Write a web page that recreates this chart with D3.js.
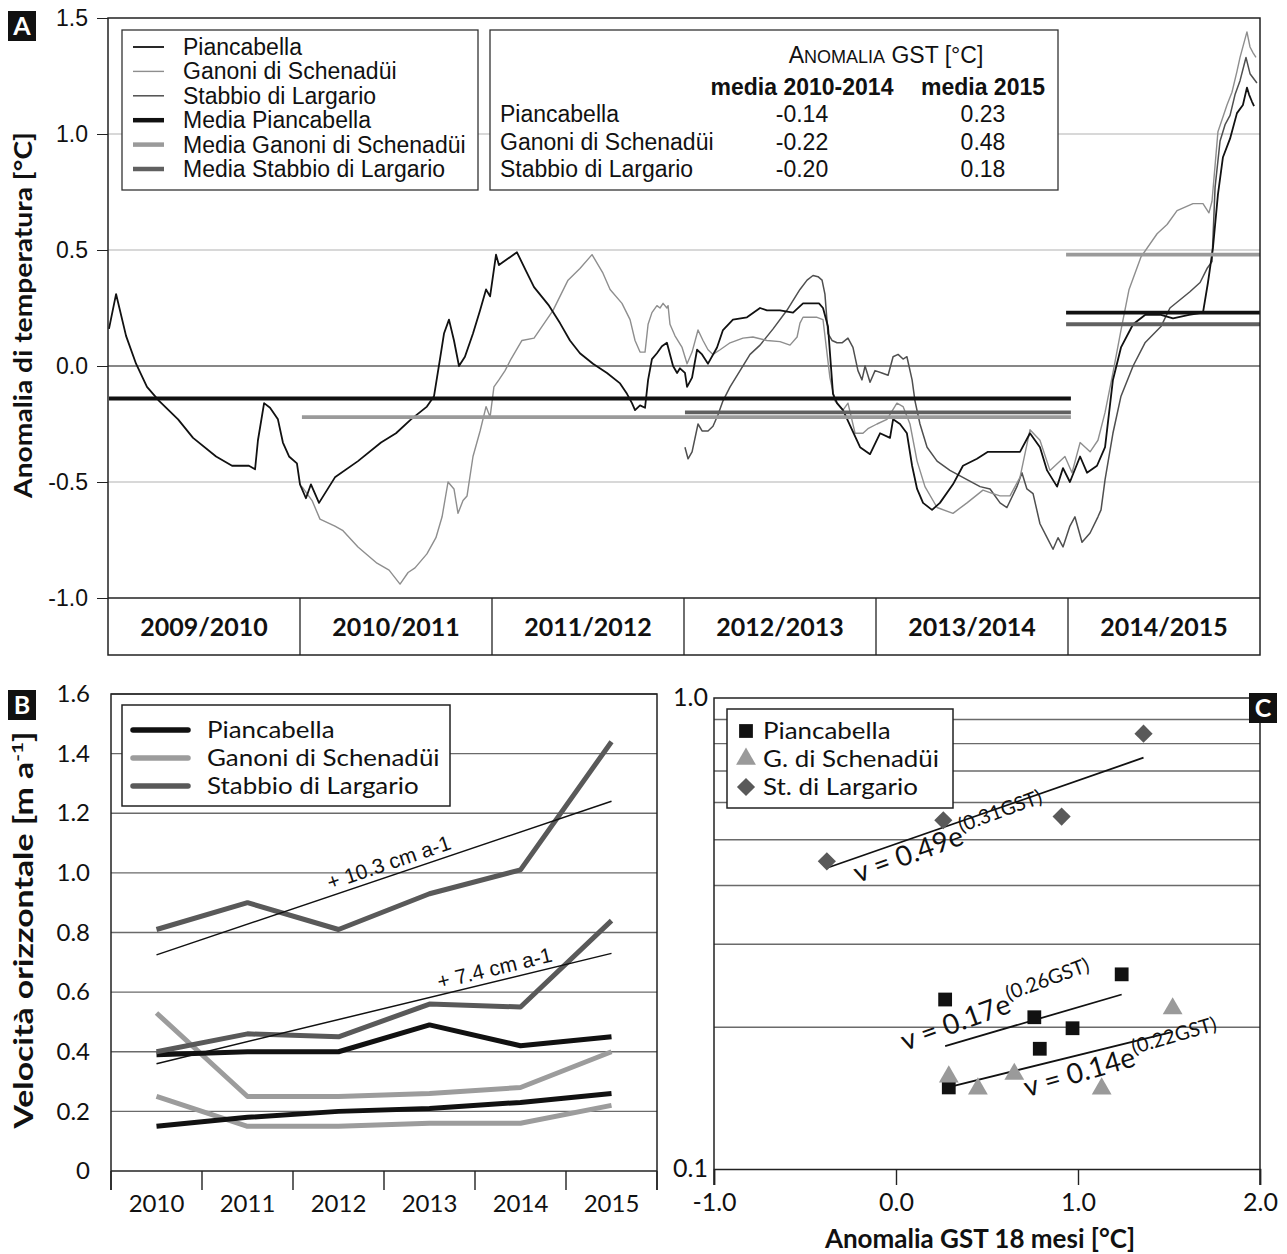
<!doctype html>
<html>
<head>
<meta charset="utf-8">
<title>Anomalia GST e velocità orizzontale</title>
<script src="https://d3js.org/d3.v7.min.js"></script>
<style>
    body { margin: 0; background: #fff; }
    svg text { font-family: "Liberation Sans", Arial, sans-serif; fill: #111; }
    svg text.cal { font-family: Lato, "Open Sans", sans-serif; }
</style>
</head>
<body>
<svg id="chart" width="1287" height="1254"></svg>
<script>
// ---------- dati pannello A (anno decimale, anomalia °C) ----------
var seasons = ["2009/2010", "2010/2011", "2011/2012", "2012/2013", "2013/2014", "2014/2015"];
var siti = ["Piancabella", "Ganoni di Schenadüi", "Stabbio di Largario"];
var media20102014 = [-0.14, -0.22, -0.20];
var media2015 = [0.23, 0.48, 0.18];

var piancabella = [[2009.755,0.16],[2009.792,0.31],[2009.844,0.13],[2009.896,0.01],[2009.953,-0.09],[2010.016,-0.15],
  [2010.115,-0.23],[2010.193,-0.31],[2010.313,-0.39],[2010.396,-0.43],[2010.484,-0.43],[2010.516,-0.445],[2010.531,-0.32],
  [2010.563,-0.16],[2010.594,-0.18],[2010.635,-0.23],[2010.661,-0.33],[2010.693,-0.39],[2010.734,-0.42],[2010.750,-0.51],
  [2010.781,-0.57],[2010.807,-0.51],[2010.849,-0.59],[2010.932,-0.48],[2011.052,-0.41],[2011.172,-0.33],[2011.250,-0.29],
  [2011.328,-0.23],[2011.411,-0.175],[2011.448,-0.13],[2011.479,0.03],[2011.500,0.14],[2011.526,0.20],[2011.552,0.11],
  [2011.578,0.00],[2011.609,0.04],[2011.651,0.14],[2011.688,0.24],[2011.719,0.33],[2011.740,0.30],[2011.771,0.48],
  [2011.786,0.435],[2011.828,0.46],[2011.880,0.49],[2011.927,0.41],[2011.969,0.34],[2012.047,0.26],[2012.104,0.185],
  [2012.156,0.11],[2012.208,0.055],[2012.276,0.01],[2012.349,-0.03],[2012.417,-0.075],[2012.453,-0.12],[2012.479,-0.16],
  [2012.495,-0.19],[2012.521,-0.17],[2012.547,-0.18],[2012.563,-0.06],[2012.583,0.03],[2012.609,0.055],[2012.635,0.085],
  [2012.661,0.10],[2012.693,0.00],[2012.714,-0.03],[2012.729,-0.01],[2012.755,-0.03],[2012.766,-0.09],[2012.792,-0.05],
  [2012.818,0.07],[2012.844,0.05],[2012.875,0.01],[2012.922,0.08],[2012.953,0.155],[2013.005,0.20],[2013.078,0.21],
  [2013.146,0.25],[2013.182,0.24],[2013.250,0.24],[2013.318,0.23],[2013.370,0.27],[2013.453,0.27],[2013.474,0.25],
  [2013.500,0.17],[2013.526,-0.12],[2013.547,-0.16],[2013.578,-0.19],[2013.667,-0.35],[2013.719,-0.38],[2013.771,-0.29],
  [2013.823,-0.31],[2013.839,-0.23],[2013.875,-0.25],[2013.911,-0.29],[2013.938,-0.43],[2013.964,-0.53],[2013.995,-0.59],
  [2014.042,-0.62],[2014.083,-0.59],[2014.151,-0.51],[2014.203,-0.43],[2014.276,-0.40],[2014.333,-0.37],[2014.396,-0.37],
  [2014.500,-0.37],[2014.552,-0.29],[2014.604,-0.35],[2014.641,-0.45],[2014.693,-0.52],[2014.724,-0.44],[2014.760,-0.50],
  [2014.813,-0.39],[2014.849,-0.46],[2014.901,-0.43],[2014.943,-0.35],[2014.984,-0.06],[2015.026,0.08],[2015.089,0.18],
  [2015.151,0.22],[2015.234,0.22],[2015.297,0.205],[2015.380,0.22],[2015.453,0.23],[2015.479,0.36],[2015.505,0.51],
  [2015.531,0.74],[2015.557,0.90],[2015.594,0.98],[2015.630,1.09],[2015.661,1.125],[2015.682,1.20],[2015.693,1.17],
  [2015.708,1.14],[2015.719,1.12]];

var ganoni = [[2010.760,-0.52],[2010.813,-0.58],[2010.854,-0.66],[2010.932,-0.69],[2010.974,-0.71],[2011.052,-0.78],
  [2011.151,-0.85],[2011.214,-0.88],[2011.271,-0.94],[2011.313,-0.89],[2011.349,-0.87],[2011.411,-0.81],[2011.458,-0.74],
  [2011.490,-0.65],[2011.521,-0.50],[2011.552,-0.53],[2011.573,-0.635],[2011.599,-0.58],[2011.620,-0.56],[2011.651,-0.39],
  [2011.688,-0.28],[2011.719,-0.175],[2011.740,-0.22],[2011.760,-0.09],[2011.786,-0.06],[2011.818,-0.02],[2011.849,0.03],
  [2011.906,0.11],[2011.969,0.12],[2012.010,0.17],[2012.068,0.24],[2012.146,0.37],[2012.208,0.42],[2012.271,0.48],
  [2012.328,0.40],[2012.365,0.33],[2012.427,0.27],[2012.469,0.20],[2012.495,0.11],[2012.521,0.06],[2012.547,0.06],
  [2012.563,0.18],[2012.583,0.23],[2012.609,0.26],[2012.625,0.25],[2012.641,0.27],[2012.661,0.25],[2012.667,0.26],
  [2012.677,0.18],[2012.703,0.13],[2012.740,0.08],[2012.766,0.01],[2012.792,0.06],[2012.823,0.155],[2012.849,0.11],
  [2012.875,0.07],[2012.901,0.05],[2012.938,0.07],[2012.990,0.10],[2013.057,0.12],[2013.109,0.125],[2013.182,0.11],
  [2013.250,0.105],[2013.302,0.09],[2013.339,0.125],[2013.354,0.185],[2013.370,0.21],[2013.443,0.21],[2013.474,0.20],
  [2013.510,-0.05],[2013.536,-0.15],[2013.578,-0.19],[2013.604,-0.16],[2013.641,-0.29],[2013.682,-0.29],[2013.708,-0.27],
  [2013.755,-0.25],[2013.807,-0.23],[2013.859,-0.16],[2013.891,-0.175],[2013.927,-0.25],[2013.964,-0.41],[2014.005,-0.52],
  [2014.068,-0.61],[2014.151,-0.635],[2014.224,-0.59],[2014.307,-0.535],[2014.359,-0.55],[2014.396,-0.56],[2014.448,-0.56],
  [2014.500,-0.48],[2014.552,-0.275],[2014.604,-0.32],[2014.656,-0.45],[2014.734,-0.39],[2014.771,-0.46],[2014.813,-0.33],
  [2014.865,-0.37],[2014.906,-0.32],[2014.943,-0.20],[2014.984,-0.03],[2015.026,0.155],[2015.068,0.33],[2015.130,0.47],
  [2015.214,0.57],[2015.266,0.61],[2015.318,0.67],[2015.401,0.70],[2015.453,0.70],[2015.484,0.66],[2015.500,0.71],
  [2015.531,1.01],[2015.578,1.125],[2015.604,1.18],[2015.630,1.27],[2015.646,1.33],[2015.682,1.44],[2015.698,1.375],
  [2015.714,1.35],[2015.729,1.33]];

var stabbio = [[2012.755,-0.35],[2012.771,-0.40],[2012.792,-0.37],[2012.823,-0.25],[2012.844,-0.28],[2012.875,-0.28],
  [2012.901,-0.26],[2012.927,-0.21],[2012.953,-0.15],[2012.990,-0.09],[2013.042,-0.02],[2013.094,0.05],[2013.146,0.09],
  [2013.214,0.16],[2013.286,0.24],[2013.354,0.33],[2013.391,0.37],[2013.422,0.39],[2013.448,0.385],[2013.469,0.37],
  [2013.484,0.31],[2013.500,0.14],[2013.521,0.11],[2013.547,0.10],[2013.573,0.10],[2013.604,0.12],[2013.630,0.08],
  [2013.656,-0.02],[2013.677,-0.06],[2013.693,0.00],[2013.719,-0.07],[2013.745,-0.02],[2013.781,-0.03],[2013.813,-0.04],
  [2013.839,0.04],[2013.865,0.05],[2013.891,0.03],[2013.911,0.04],[2013.938,-0.06],[2013.953,-0.15],[2013.979,-0.25],
  [2014.016,-0.35],[2014.068,-0.41],[2014.135,-0.45],[2014.224,-0.49],[2014.292,-0.52],[2014.344,-0.53],[2014.396,-0.59],
  [2014.432,-0.61],[2014.484,-0.52],[2014.510,-0.46],[2014.536,-0.53],[2014.568,-0.55],[2014.604,-0.68],[2014.641,-0.74],
  [2014.672,-0.79],[2014.698,-0.74],[2014.724,-0.78],[2014.760,-0.69],[2014.786,-0.65],[2014.823,-0.76],[2014.865,-0.72],
  [2014.906,-0.65],[2014.922,-0.62],[2014.943,-0.49],[2014.984,-0.29],[2015.026,-0.13],[2015.089,0.00],[2015.151,0.10],
  [2015.234,0.17],[2015.281,0.25],[2015.385,0.32],[2015.438,0.36],[2015.474,0.42],[2015.500,0.45],[2015.516,0.77],
  [2015.542,0.97],[2015.568,1.04],[2015.594,1.08],[2015.620,1.17],[2015.646,1.23],[2015.677,1.33],[2015.698,1.26],
  [2015.734,1.22]];

// ---------- dati pannello B (velocità orizzontale, m/a) ----------
var anni = ["2010", "2011", "2012", "2013", "2014", "2015"];
var velPiancabella1 = [0.39, 0.40, 0.40, 0.49, 0.42, 0.45];
var velPiancabella2 = [0.15, 0.18, 0.20, 0.21, 0.23, 0.26];
var velGanoni1 = [0.53, 0.25, 0.25, 0.26, 0.28, 0.40];
var velGanoni2 = [0.25, 0.15, 0.15, 0.16, 0.16, 0.22];
var velStabbio1 = [0.81, 0.90, 0.81, 0.93, 1.01, 1.44];
var velStabbio2 = [0.40, 0.46, 0.45, 0.56, 0.55, 0.84];
var trendAlto = [0.725, 1.24];
var trendBasso = [0.36, 0.73];
var trendEtichette = ["+ 10.3 cm a-1", "+ 7.4 cm a-1"];

// ---------- dati pannello C (anomalia GST 18 mesi vs velocità) ----------
var gstPiancabella = [0.27, 0.29, 0.76, 0.79, 0.97, 1.24];
var vPiancabella = [0.229, 0.149, 0.21, 0.18, 0.199, 0.259];
var gstGanoni = [0.29, 0.45, 0.65, 1.13, 1.52];
var vGanoni = [0.157, 0.148, 0.159, 0.148, 0.219];
var gstStabbio = [-0.38, 0.26, 0.91, 1.36];
var vStabbio = [0.45, 0.55, 0.56, 0.84];
var fitCoeff = [[0.17, 0.26], [0.14, 0.22], [0.49, 0.31]];   // v = a e^(b GST)
var legendaC = ["Piancabella", "G. di Schenadüi", "St. di Largario"];

var cal = "cal";
var svg = d3.select("#chart");

function panelLabel(x, y, t) {
    svg.append("rect").attr("x", x).attr("y", y).attr("width", 28).attr("height", 30).attr("fill", "#111");
    svg.append("text").attr("class", cal).attr("x", x + 14).attr("y", y + 24).attr("text-anchor", "middle")
        .attr("font-size", 25).attr("font-weight", "bold").style("fill", "#fff").text(t);
}

// =================== PANNELLO A ===================
var xA = d3.scaleLinear().domain([2009.75, 2015.75]).range([108, 1260]);
var yA = d3.scaleLinear().domain([-1, 1.5]).range([598, 18]);
var gA = svg.append("g");

gA.selectAll("line.grid").data([-0.5, 0.5, 1.0]).join("line")
    .attr("x1", 108).attr("x2", 1260).attr("y1", function (d) { return yA(d); }).attr("y2", function (d) { return yA(d); })
    .attr("stroke", "#a8a8a8").attr("stroke-width", 0.9);
gA.append("line").attr("x1", 108).attr("x2", 1260).attr("y1", yA(0)).attr("y2", yA(0))
    .attr("stroke", "#111").attr("stroke-width", 1.2);

gA.append("g").attr("transform", "translate(108,0)")
    .call(d3.axisLeft(yA).tickValues(d3.range(-1, 1.51, 0.5)).tickFormat(function (d) { return d.toFixed(1); })
        .tickSize(11).tickPadding(9))
    .call(function (g) { g.select(".domain").remove(); })
    .call(function (g) {
        g.selectAll("line").attr("stroke", "#222");
        g.selectAll("text").attr("font-size", 23).style("font-family", "'Liberation Sans', Arial, sans-serif");
    });

var lineA = d3.line().x(function (d) { return xA(d[0]); }).y(function (d) { return yA(d[1]); });
var serieA = [
    { data: stabbio, color: "#4f4f4f", w: 1.5 },
    { data: ganoni, color: "#8e8e8e", w: 1.4 },
    { data: piancabella, color: "#111", w: 1.8 }
];
gA.selectAll("path.serie").data(serieA).join("path")
    .attr("d", function (d) { return lineA(d.data); })
    .attr("fill", "none").attr("stroke", function (d) { return d.color; }).attr("stroke-width", function (d) { return d.w; })
    .attr("stroke-linejoin", "round");

var coloriMedia = ["#111", "#9a9a9a", "#606060"];
var inizio = [piancabella[0][0], ganoni[0][0], stabbio[0][0]];
siti.forEach(function (s, i) {
    gA.append("line").attr("x1", xA(inizio[i])).attr("x2", xA(2014.765))
        .attr("y1", yA(media20102014[i])).attr("y2", yA(media20102014[i]))
        .attr("stroke", coloriMedia[i]).attr("stroke-width", 3.8);
    gA.append("line").attr("x1", xA(2014.74)).attr("x2", xA(2015.75))
        .attr("y1", yA(media2015[i])).attr("y2", yA(media2015[i]))
        .attr("stroke", coloriMedia[i]).attr("stroke-width", 3.8);
});

// riga delle stagioni
var bordi = seasons.map(function (s) { return +s.slice(0, 4) + 0.75; });
gA.selectAll("line.sep").data(bordi.slice(1)).join("line")
    .attr("x1", function (d) { return xA(d); }).attr("x2", function (d) { return xA(d); })
    .attr("y1", 598).attr("y2", 655).attr("stroke", "#222").attr("stroke-width", 1.3);
gA.selectAll("text.stag").data(seasons).join("text").attr("class", cal)
    .attr("x", function (d, i) { return xA(bordi[i] + 0.5); }).attr("y", 636)
    .attr("text-anchor", "middle").attr("font-size", 25).attr("font-weight", "bold").text(function (d) { return d; });
gA.append("line").attr("x1", 108).attr("x2", 1260).attr("y1", 598).attr("y2", 598).attr("stroke", "#222").attr("stroke-width", 1.5);
gA.append("rect").attr("x", 108).attr("y", 18).attr("width", 1152).attr("height", 637)
    .attr("fill", "none").attr("stroke", "#222").attr("stroke-width", 1.5);

gA.append("text").attr("class", cal).attr("transform", "translate(32,315) rotate(-90) scale(1.13,1)").attr("text-anchor", "middle")
    .attr("font-size", 25).attr("font-weight", "bold").text("Anomalia di temperatura [°C]");

// legenda A
var legA = gA.append("g");
legA.append("rect").attr("x", 122).attr("y", 30).attr("width", 356).attr("height", 160)
    .attr("fill", "#fff").attr("stroke", "#333").attr("stroke-width", 1.3);
var vociA = siti.map(function (s, i) { return { t: s, c: serieA[2 - i].color, w: serieA[2 - i].w }; })
    .concat(siti.map(function (s, i) { return { t: "Media " + s, c: coloriMedia[i], w: 4.5 }; }));
vociA.forEach(function (v, i) {
    var y = 47 + i * 24.4;
    legA.append("line").attr("x1", 133).attr("x2", 164).attr("y1", y).attr("y2", y).attr("stroke", v.c).attr("stroke-width", v.w);
    legA.append("text").attr("x", 183).attr("y", y + 8).attr("font-size", 23).text(v.t);
});

// tabella A
var tab = gA.append("g");
tab.append("rect").attr("x", 490).attr("y", 30).attr("width", 568).attr("height", 160)
    .attr("fill", "#fff").attr("stroke", "#333").attr("stroke-width", 1.3);
var tit = tab.append("text").attr("x", 886).attr("y", 63).attr("text-anchor", "middle").attr("font-size", 23);
tit.append("tspan").text("A");
tit.append("tspan").attr("font-size", 18).text("NOMALIA");
tit.append("tspan").text(" GST [°C]");
tab.append("text").attr("x", 802).attr("y", 95).attr("text-anchor", "middle").attr("font-size", 23).attr("font-weight", "bold").text("media 2010-2014");
tab.append("text").attr("x", 983).attr("y", 95).attr("text-anchor", "middle").attr("font-size", 23).attr("font-weight", "bold").text("media 2015");
siti.forEach(function (s, i) {
    var y = 122 + i * 27.5;
    tab.append("text").attr("x", 500).attr("y", y).attr("font-size", 23).text(s);
    tab.append("text").attr("x", 802).attr("y", y).attr("text-anchor", "middle").attr("font-size", 23).text(media20102014[i].toFixed(2));
    tab.append("text").attr("x", 983).attr("y", y).attr("text-anchor", "middle").attr("font-size", 23).text(media2015[i].toFixed(2));
});
panelLabel(8, 11, "A");

// =================== PANNELLO B ===================
var xB = d3.scaleBand().domain(anni).range([111, 657]);
var xBc = function (a) { return xB(a) + xB.bandwidth() / 2; };
var yB = d3.scaleLinear().domain([0, 1.6]).range([1171, 694]);
var gB = svg.append("g");

gB.selectAll("line.grid").data(d3.range(0.2, 1.61, 0.2)).join("line")
    .attr("x1", 111).attr("x2", 657).attr("y1", function (d) { return yB(d); }).attr("y2", function (d) { return yB(d); })
    .attr("stroke", "#6a6a6a").attr("stroke-width", 1.4);
gB.append("g").attr("transform", "translate(111,0)")
    .call(d3.axisLeft(yB).tickValues(d3.range(0, 1.61, 0.2)).tickFormat(function (d) { return d < 0.01 ? "0" : d.toFixed(1); })
        .tickSize(0).tickPadding(21))
    .call(function (g) { g.select(".domain").remove(); })
    .call(function (g) { g.selectAll("text").attr("class", cal).attr("font-size", 24).style("font-family", "Lato, sans-serif"); });
// tacche sull'asse x tra le categorie
gB.selectAll("line.tick").data(anni.map(function (a) { return xB(a); }).concat([657])).join("line")
    .attr("x1", function (d) { return d; }).attr("x2", function (d) { return d; })
    .attr("y1", 1171).attr("y2", 1190).attr("stroke", "#222").attr("stroke-width", 1.4);
gB.selectAll("text.anno").data(anni).join("text").attr("class", cal)
    .attr("x", function (d) { return xBc(d); }).attr("y", 1212).attr("text-anchor", "middle").attr("font-size", 24).text(function (d) { return d; });
gB.append("line").attr("x1", 111).attr("x2", 657).attr("y1", 1171).attr("y2", 1171).attr("stroke", "#222").attr("stroke-width", 1.5);
gB.append("path").attr("d", "M111,1190V694H657V1190").attr("fill", "none").attr("stroke", "#222").attr("stroke-width", 1.5);

var lineB = d3.line().x(function (d, i) { return xBc(anni[i]); }).y(function (d) { return yB(d); });
var serieB = [
    { v: velGanoni1, c: "#9c9c9c" }, { v: velGanoni2, c: "#9c9c9c" },
    { v: velPiancabella1, c: "#111" }, { v: velPiancabella2, c: "#111" },
    { v: velStabbio1, c: "#595959" }, { v: velStabbio2, c: "#595959" }
];
gB.selectAll("path.vel").data(serieB).join("path")
    .attr("d", function (d) { return lineB(d.v); }).attr("fill", "none")
    .attr("stroke", function (d) { return d.c; }).attr("stroke-width", 5).attr("stroke-linejoin", "round");

[trendAlto, trendBasso].forEach(function (t, i) {
    var x1 = xBc(anni[0]), x2 = xBc(anni[5]);
    gB.append("line").attr("x1", x1).attr("x2", x2).attr("y1", yB(t[0])).attr("y2", yB(t[1]))
        .attr("stroke", "#111").attr("stroke-width", 1.5);
    var ang = Math.atan2(yB(t[1]) - yB(t[0]), x2 - x1) * 180 / Math.PI;
    var f = i === 0 ? 0.52 : 0.75;
    var px = x1 + f * (x2 - x1), py = yB(t[0] + f * (t[1] - t[0]));
    gB.append("text").attr("transform", "translate(" + px + "," + py + ") rotate(" + ang + ")")
        .attr("text-anchor", "middle").attr("dy", -6).attr("font-size", 21).text(trendEtichette[i]);
});

var legB = gB.append("g");
legB.append("rect").attr("x", 122).attr("y", 705).attr("width", 328).attr("height", 101)
    .attr("fill", "#fff").attr("stroke", "#222").attr("stroke-width", 1.5);
[["#111", siti[0]], ["#9c9c9c", siti[1]], ["#595959", siti[2]]].forEach(function (v, i) {
    var y = 730 + i * 28;
    legB.append("line").attr("x1", 133).attr("x2", 188).attr("y1", y).attr("y2", y).attr("stroke", v[0])
        .attr("stroke-width", 5.5).attr("stroke-linecap", "round");
    legB.append("text").attr("class", cal).attr("transform", "translate(207," + (y + 8) + ") scale(1.08,1)")
        .attr("font-size", 24).text(v[1]);
});

var ylB = gB.append("text").attr("class", cal).attr("transform", "translate(33,930) rotate(-90) scale(1.3,1)").attr("text-anchor", "middle")
    .attr("font-size", 26).attr("font-weight", "bold");
ylB.append("tspan").text("Velocità orizzontale [m a");
ylB.append("tspan").attr("font-size", 16).attr("dy", -10).text("-1");
ylB.append("tspan").attr("dy", 10).text("]");
panelLabel(8, 690, "B");

// =================== PANNELLO C ===================
var xC = d3.scaleLinear().domain([-1, 2]).range([714, 1260]);
var yC = d3.scaleLog().domain([0.1, 1]).range([1169, 698]);
var gC = svg.append("g");

gC.selectAll("line.grid").data(d3.range(2, 10).map(function (k) { return k / 10; })).join("line")
    .attr("x1", 714).attr("x2", 1260).attr("y1", function (d) { return yC(d); }).attr("y2", function (d) { return yC(d); })
    .attr("stroke", "#6a6a6a").attr("stroke-width", 1.4);
gC.append("path").attr("d", "M714,1185V698H1260V1185").attr("fill", "none").attr("stroke", "#222").attr("stroke-width", 1.5);
gC.append("g").attr("transform", "translate(0,1169)")
    .call(d3.axisBottom(xC).tickValues([-1, 0, 1, 2]).tickFormat(function (d) { return d.toFixed(1); }).tickSize(16).tickPadding(8))
    .call(function (g) {
        g.select(".domain").attr("stroke", "#222").attr("stroke-width", 1.5);
        g.selectAll("line").attr("stroke", "#222").attr("stroke-width", 1.4);
        g.selectAll("text").attr("class", cal).attr("font-size", 25).style("font-family", "Lato, sans-serif");
    });
gC.selectAll("text.ylab").data([1, 0.1]).join("text").attr("class", cal)
    .attr("x", 708).attr("y", function (d) { return yC(d) + 8; }).attr("text-anchor", "end").attr("font-size", 25)
    .text(function (d) { return d.toFixed(1); });
gC.append("text").attr("class", cal).attr("x", 980).attr("y", 1248).attr("text-anchor", "middle")
    .attr("font-size", 26).attr("font-weight", "bold").text("Anomalia GST 18 mesi [°C]");

var gruppiC = [
    { g: gstPiancabella, v: vPiancabella, sym: d3.symbolSquare, size: 190, rot: 0, c: "#111" },
    { g: gstGanoni, v: vGanoni, sym: d3.symbolTriangle, size: 170, rot: 0, c: "#9a9a9a" },
    { g: gstStabbio, v: vStabbio, sym: d3.symbolSquare, size: 165, rot: 45, c: "#595959" }
];
gruppiC.forEach(function (gr, i) {
    var ext = d3.extent(gr.g);
    var a = fitCoeff[i][0], b = fitCoeff[i][1];
    gC.append("line").attr("x1", xC(ext[0])).attr("x2", xC(ext[1]))
        .attr("y1", yC(a * Math.exp(b * ext[0]))).attr("y2", yC(a * Math.exp(b * ext[1])))
        .attr("stroke", "#111").attr("stroke-width", 1.8);
});
gruppiC.forEach(function (gr) {
    gC.selectAll(null).data(gr.g).join("path")
        .attr("d", d3.symbol().type(gr.sym).size(gr.size))
        .attr("transform", function (d, j) { return "translate(" + xC(d) + "," + yC(gr.v[j]) + ") rotate(" + gr.rot + ")"; })
        .attr("fill", gr.c);
});

// equazioni delle regressioni
var eqC = [
    { a: "0.17", b: "0.26", gx: 0.05, vy: 0.178, ang: -20 },
    { a: "0.14", b: "0.22", gx: 0.72, vy: 0.142, ang: -16 },
    { a: "0.49", b: "0.31", gx: -0.21, vy: 0.405, ang: -20 }
];
eqC.forEach(function (e) {
    var t = gC.append("text").attr("class", cal)
        .attr("transform", "translate(" + xC(e.gx) + "," + yC(e.vy) + ") rotate(" + e.ang + ")").attr("font-size", 28);
    t.append("tspan").text("v = " + e.a + "e");
    t.append("tspan").attr("font-size", 20).attr("dy", -12).text("(" + e.b + "GST)");
});

var legC = gC.append("g");
legC.append("rect").attr("x", 727).attr("y", 709).attr("width", 226).attr("height", 99)
    .attr("fill", "#fff").attr("stroke", "#222").attr("stroke-width", 1.5);
gruppiC.forEach(function (gr, i) {
    var y = 731 + i * 28;
    legC.append("path").attr("d", d3.symbol().type(gr.sym).size(gr.size))
        .attr("transform", "translate(746," + y + ") rotate(" + gr.rot + ")").attr("fill", gr.c);
    legC.append("text").attr("class", cal).attr("transform", "translate(763," + (y + 8) + ") scale(1.08,1)")
        .attr("font-size", 24).text(legendaC[i]);
});
panelLabel(1249, 693, "C");
</script>
</body>
</html>
